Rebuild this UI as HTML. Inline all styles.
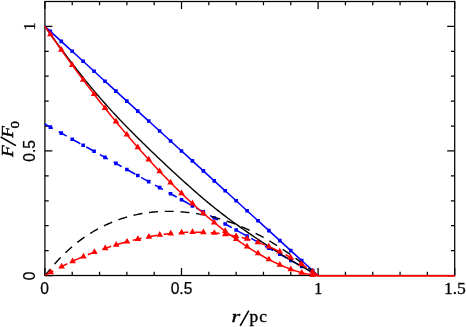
<!DOCTYPE html>
<html><head><meta charset="utf-8"><title>F/F0 vs r/pc</title>
<style>html,body{margin:0;padding:0;background:#fff;}svg{display:block;}</style></head>
<body>
<svg width="466" height="327" viewBox="0 0 466 327">
<rect width="466" height="327" fill="#fff"/>
<g fill="none" stroke="#000" stroke-width="1.25">
<rect x="44.9" y="1.5" width="409.8" height="274"/>
<path d="M44.9 275.5V268M44.9 1.5V9M72.22 275.5V271.7M72.22 1.5V5.3M99.54 275.5V271.7M99.54 1.5V5.3M126.86 275.5V271.7M126.86 1.5V5.3M154.18 275.5V271.7M154.18 1.5V5.3M181.5 275.5V268M181.5 1.5V9M208.82 275.5V271.7M208.82 1.5V5.3M236.14 275.5V271.7M236.14 1.5V5.3M263.46 275.5V271.7M263.46 1.5V5.3M290.78 275.5V271.7M290.78 1.5V5.3M318.1 275.5V268M318.1 1.5V9M345.42 275.5V271.7M345.42 1.5V5.3M372.74 275.5V271.7M372.74 1.5V5.3M400.06 275.5V271.7M400.06 1.5V5.3M427.38 275.5V271.7M427.38 1.5V5.3M454.7 275.5V268M454.7 1.5V9M44.9 275.5H52.4M454.7 275.5H447.2M44.9 250.59H48.7M454.7 250.59H450.9M44.9 225.68H48.7M454.7 225.68H450.9M44.9 200.77H48.7M454.7 200.77H450.9M44.9 175.86H48.7M454.7 175.86H450.9M44.9 150.95H52.4M454.7 150.95H447.2M44.9 126.04H48.7M454.7 126.04H450.9M44.9 101.13H48.7M454.7 101.13H450.9M44.9 76.22H48.7M454.7 76.22H450.9M44.9 51.31H48.7M454.7 51.31H450.9M44.9 26.4H52.4M454.7 26.4H447.2"/>
</g>
<path fill="none" stroke="#0000ff" stroke-width="1.55" d="M44.9 26.4 L46.27 27.65 L47.63 28.89 L49 30.14 L50.36 31.38 L51.73 32.63 L53.1 33.87 L54.46 35.12 L55.83 36.36 L57.19 37.61 L58.56 38.86 L59.93 40.1 L61.29 41.35 L62.66 42.59 L64.02 43.84 L65.39 45.08 L66.76 46.33 L68.12 47.57 L69.49 48.82 L70.85 50.06 L72.22 51.31 L73.59 52.56 L74.95 53.8 L76.32 55.05 L77.68 56.29 L79.05 57.54 L80.42 58.78 L81.78 60.03 L83.15 61.27 L84.51 62.52 L85.88 63.77 L87.25 65.01 L88.61 66.26 L89.98 67.5 L91.34 68.75 L92.71 69.99 L94.08 71.24 L95.44 72.48 L96.81 73.73 L98.17 74.97 L99.54 76.22 L100.91 77.47 L102.27 78.71 L103.64 79.96 L105 81.2 L106.37 82.45 L107.74 83.69 L109.1 84.94 L110.47 86.18 L111.83 87.43 L113.2 88.68 L114.57 89.92 L115.93 91.17 L117.3 92.41 L118.66 93.66 L120.03 94.9 L121.4 96.15 L122.76 97.39 L124.13 98.64 L125.49 99.88 L126.86 101.13 L128.23 102.38 L129.59 103.62 L130.96 104.87 L132.32 106.11 L133.69 107.36 L135.06 108.6 L136.42 109.85 L137.79 111.09 L139.15 112.34 L140.52 113.59 L141.89 114.83 L143.25 116.08 L144.62 117.32 L145.98 118.57 L147.35 119.81 L148.72 121.06 L150.08 122.3 L151.45 123.55 L152.81 124.79 L154.18 126.04 L155.55 127.29 L156.91 128.53 L158.28 129.78 L159.64 131.02 L161.01 132.27 L162.38 133.51 L163.74 134.76 L165.11 136 L166.47 137.25 L167.84 138.5 L169.21 139.74 L170.57 140.99 L171.94 142.23 L173.3 143.48 L174.67 144.72 L176.04 145.97 L177.4 147.21 L178.77 148.46 L180.13 149.7 L181.5 150.95 L182.87 152.2 L184.23 153.44 L185.6 154.69 L186.96 155.93 L188.33 157.18 L189.7 158.42 L191.06 159.67 L192.43 160.91 L193.79 162.16 L195.16 163.41 L196.53 164.65 L197.89 165.9 L199.26 167.14 L200.62 168.39 L201.99 169.63 L203.36 170.88 L204.72 172.12 L206.09 173.37 L207.45 174.61 L208.82 175.86 L210.19 177.11 L211.55 178.35 L212.92 179.6 L214.28 180.84 L215.65 182.09 L217.02 183.33 L218.38 184.58 L219.75 185.82 L221.11 187.07 L222.48 188.31 L223.85 189.56 L225.21 190.81 L226.58 192.05 L227.94 193.3 L229.31 194.54 L230.68 195.79 L232.04 197.03 L233.41 198.28 L234.77 199.52 L236.14 200.77 L237.51 202.02 L238.87 203.26 L240.24 204.51 L241.6 205.75 L242.97 207 L244.34 208.24 L245.7 209.49 L247.07 210.73 L248.43 211.98 L249.8 213.22 L251.17 214.47 L252.53 215.72 L253.9 216.96 L255.26 218.21 L256.63 219.45 L258 220.7 L259.36 221.94 L260.73 223.19 L262.09 224.43 L263.46 225.68 L264.83 226.93 L266.19 228.17 L267.56 229.42 L268.92 230.66 L270.29 231.91 L271.66 233.15 L273.02 234.4 L274.39 235.64 L275.75 236.89 L277.12 238.13 L278.49 239.38 L279.85 240.63 L281.22 241.87 L282.58 243.12 L283.95 244.36 L285.32 245.61 L286.68 246.85 L288.05 248.1 L289.41 249.34 L290.78 250.59 L292.15 251.84 L293.51 253.08 L294.88 254.33 L296.24 255.57 L297.61 256.82 L298.98 258.06 L300.34 259.31 L301.71 260.55 L303.07 261.8 L304.44 263.05 L305.81 264.29 L307.17 265.54 L308.54 266.78 L309.9 268.03 L311.27 269.27 L312.64 270.52 L314 271.76 L315.37 273.01 L316.73 274.25 L318.1 275.5"/>
<path fill="#0000ff" d="M48.56 29.58h3.6v3.6h-3.6zM59.49 39.55h3.6v3.6h-3.6zM70.42 49.51h3.6v3.6h-3.6zM81.35 59.47h3.6v3.6h-3.6zM92.28 69.44h3.6v3.6h-3.6zM103.2 79.4h3.6v3.6h-3.6zM114.13 89.37h3.6v3.6h-3.6zM125.06 99.33h3.6v3.6h-3.6zM135.99 109.29h3.6v3.6h-3.6zM146.92 119.26h3.6v3.6h-3.6zM157.84 129.22h3.6v3.6h-3.6zM168.77 139.19h3.6v3.6h-3.6zM179.7 149.15h3.6v3.6h-3.6zM190.63 159.11h3.6v3.6h-3.6zM201.56 169.08h3.6v3.6h-3.6zM212.48 179.04h3.6v3.6h-3.6zM223.41 189.01h3.6v3.6h-3.6zM234.34 198.97h3.6v3.6h-3.6zM245.27 208.93h3.6v3.6h-3.6zM256.2 218.9h3.6v3.6h-3.6zM267.12 228.86h3.6v3.6h-3.6zM278.05 238.83h3.6v3.6h-3.6zM288.98 248.79h3.6v3.6h-3.6zM299.91 258.75h3.6v3.6h-3.6zM310.84 268.72h3.6v3.6h-3.6z"/>
<path fill="none" stroke="#0000ff" stroke-width="1.55" stroke-dasharray="9.1 6.63" d="M44.9 124.05 L46.27 124.8 L47.63 125.56 L49 126.32 L50.36 127.08 L51.73 127.83 L53.1 128.59 L54.46 129.35 L55.83 130.11 L57.19 130.86 L58.56 131.62 L59.93 132.38 L61.29 133.13 L62.66 133.89 L64.02 134.65 L65.39 135.41 L66.76 136.16 L68.12 136.92 L69.49 137.68 L70.85 138.44 L72.22 139.19 L73.59 139.95 L74.95 140.71 L76.32 141.46 L77.68 142.22 L79.05 142.98 L80.42 143.74 L81.78 144.49 L83.15 145.25 L84.51 146.01 L85.88 146.77 L87.25 147.52 L88.61 148.28 L89.98 149.04 L91.34 149.79 L92.71 150.55 L94.08 151.31 L95.44 152.07 L96.81 152.82 L98.17 153.58 L99.54 154.34 L100.91 155.1 L102.27 155.85 L103.64 156.61 L105 157.37 L106.37 158.12 L107.74 158.88 L109.1 159.64 L110.47 160.4 L111.83 161.15 L113.2 161.91 L114.57 162.67 L115.93 163.42 L117.3 164.18 L118.66 164.94 L120.03 165.7 L121.4 166.45 L122.76 167.21 L124.13 167.97 L125.49 168.73 L126.86 169.48 L128.23 170.24 L129.59 171 L130.96 171.75 L132.32 172.51 L133.69 173.27 L135.06 174.03 L136.42 174.78 L137.79 175.54 L139.15 176.3 L140.52 177.06 L141.89 177.81 L143.25 178.57 L144.62 179.33 L145.98 180.08 L147.35 180.84 L148.72 181.6 L150.08 182.36 L151.45 183.11 L152.81 183.87 L154.18 184.63 L155.55 185.39 L156.91 186.14 L158.28 186.9 L159.64 187.66 L161.01 188.41 L162.38 189.17 L163.74 189.93 L165.11 190.69 L166.47 191.44 L167.84 192.2 L169.21 192.96 L170.57 193.72 L171.94 194.47 L173.3 195.23 L174.67 195.99 L176.04 196.74 L177.4 197.5 L178.77 198.26 L180.13 199.02 L181.5 199.77 L182.87 200.53 L184.23 201.29 L185.6 202.05 L186.96 202.8 L188.33 203.56 L189.7 204.32 L191.06 205.07 L192.43 205.83 L193.79 206.59 L195.16 207.35 L196.53 208.1 L197.89 208.86 L199.26 209.62 L200.62 210.38 L201.99 211.13 L203.36 211.89 L204.72 212.65 L206.09 213.4 L207.45 214.16 L208.82 214.92 L210.19 215.68 L211.55 216.43 L212.92 217.19 L214.28 217.95 L215.65 218.71 L217.02 219.46 L218.38 220.22 L219.75 220.98 L221.11 221.73 L222.48 222.49 L223.85 223.25 L225.21 224.01 L226.58 224.76 L227.94 225.52 L229.31 226.28 L230.68 227.04 L232.04 227.79 L233.41 228.55 L234.77 229.31 L236.14 230.06 L237.51 230.82 L238.87 231.58 L240.24 232.34 L241.6 233.09 L242.97 233.85 L244.34 234.61 L245.7 235.37 L247.07 236.12 L248.43 236.88 L249.8 237.64 L251.17 238.39 L252.53 239.15 L253.9 239.91 L255.26 240.67 L256.63 241.42 L258 242.18 L259.36 242.94 L260.73 243.69 L262.09 244.45 L263.46 245.21 L264.83 245.97 L266.19 246.72 L267.56 247.48 L268.92 248.24 L270.29 249 L271.66 249.75 L273.02 250.51 L274.39 251.27 L275.75 252.02 L277.12 252.78 L278.49 253.54 L279.85 254.3 L281.22 255.05 L282.58 255.81 L283.95 256.57 L285.32 257.33 L286.68 258.08 L288.05 258.84 L289.41 259.6 L290.78 260.35 L292.15 261.11 L293.51 261.87 L294.88 262.63 L296.24 263.38 L297.61 264.14 L298.98 264.9 L300.34 265.66 L301.71 266.41 L303.07 267.17 L304.44 267.93 L305.81 268.68 L307.17 269.44 L308.54 270.2 L309.9 270.96 L311.27 271.71 L312.64 272.47 L314 273.23 L315.37 273.99 L316.73 274.74 L318.1 275.5"/>
<path fill="#0000ff" d="M48.56 125.28h3.6v3.6h-3.6zM59.49 131.33h3.6v3.6h-3.6zM70.42 137.39h3.6v3.6h-3.6zM81.35 143.45h3.6v3.6h-3.6zM92.28 149.51h3.6v3.6h-3.6zM103.2 155.57h3.6v3.6h-3.6zM114.13 161.62h3.6v3.6h-3.6zM125.06 167.68h3.6v3.6h-3.6zM135.99 173.74h3.6v3.6h-3.6zM146.92 179.8h3.6v3.6h-3.6zM157.84 185.86h3.6v3.6h-3.6zM168.77 191.92h3.6v3.6h-3.6zM179.7 197.97h3.6v3.6h-3.6zM190.63 204.03h3.6v3.6h-3.6zM201.56 210.09h3.6v3.6h-3.6zM212.48 216.15h3.6v3.6h-3.6zM223.41 222.21h3.6v3.6h-3.6zM234.34 228.26h3.6v3.6h-3.6zM245.27 234.32h3.6v3.6h-3.6zM256.2 240.38h3.6v3.6h-3.6zM267.12 246.44h3.6v3.6h-3.6zM278.05 252.5h3.6v3.6h-3.6zM288.98 258.55h3.6v3.6h-3.6zM299.91 264.61h3.6v3.6h-3.6zM310.84 270.67h3.6v3.6h-3.6z"/>
<path fill="none" stroke="#000" stroke-width="1.4" d="M45.3 26.73 L46.66 28.67 L48.03 30.61 L49.39 32.53 L50.75 34.45 L52.11 36.36 L53.48 38.26 L54.84 40.16 L56.2 42.04 L57.57 43.92 L58.93 45.79 L60.29 47.65 L61.66 49.51 L63.02 51.35 L64.38 53.19 L65.75 55.01 L67.11 56.83 L68.47 58.64 L69.83 60.44 L71.2 62.23 L72.56 64.02 L73.92 65.79 L75.29 67.55 L76.65 69.31 L78.01 71.05 L79.38 72.79 L80.74 74.51 L82.1 76.23 L83.46 77.94 L84.83 79.63 L86.19 81.32 L87.55 83 L88.92 84.66 L90.28 86.32 L91.64 87.96 L93 89.6 L94.37 91.22 L95.73 92.84 L97.09 94.44 L98.46 96.03 L99.82 97.62 L101.18 99.19 L102.55 100.75 L103.91 102.29 L105.27 103.83 L106.64 105.36 L108 106.88 L109.36 108.38 L110.72 109.88 L112.09 111.37 L113.45 112.85 L114.81 114.32 L116.18 115.78 L117.54 117.23 L118.9 118.67 L120.27 120.11 L121.63 121.54 L122.99 122.96 L124.35 124.37 L125.72 125.78 L127.08 127.17 L128.44 128.57 L129.81 129.95 L131.17 131.33 L132.53 132.71 L133.9 134.08 L135.26 135.44 L136.62 136.8 L137.98 138.15 L139.35 139.5 L140.71 140.84 L142.07 142.18 L143.44 143.52 L144.8 144.85 L146.16 146.18 L147.53 147.5 L148.89 148.82 L150.25 150.14 L151.61 151.45 L152.98 152.76 L154.34 154.06 L155.7 155.36 L157.07 156.66 L158.43 157.95 L159.79 159.24 L161.16 160.53 L162.52 161.81 L163.88 163.09 L165.24 164.37 L166.61 165.64 L167.97 166.91 L169.33 168.17 L170.7 169.44 L172.06 170.7 L173.42 171.95 L174.79 173.21 L176.15 174.46 L177.51 175.71 L178.87 176.96 L180.24 178.2 L181.6 179.44 L182.96 180.67 L184.33 181.91 L185.69 183.14 L187.05 184.36 L188.42 185.58 L189.78 186.8 L191.14 188.01 L192.5 189.22 L193.87 190.42 L195.23 191.62 L196.59 192.81 L197.96 194 L199.32 195.18 L200.68 196.35 L202.05 197.51 L203.41 198.67 L204.77 199.83 L206.13 200.97 L207.5 202.11 L208.86 203.24 L210.22 204.36 L211.59 205.47 L212.95 206.58 L214.31 207.68 L215.68 208.76 L217.04 209.84 L218.4 210.92 L219.76 211.98 L221.13 213.04 L222.49 214.08 L223.85 215.13 L225.22 216.16 L226.58 217.19 L227.94 218.21 L229.31 219.22 L230.67 220.23 L232.03 221.23 L233.39 222.22 L234.76 223.21 L236.12 224.19 L237.48 225.17 L238.85 226.14 L240.21 227.11 L241.57 228.07 L242.94 229.03 L244.3 229.98 L245.66 230.93 L247.02 231.87 L248.39 232.81 L249.75 233.75 L251.11 234.68 L252.48 235.61 L253.84 236.53 L255.2 237.46 L256.56 238.37 L257.93 239.29 L259.29 240.2 L260.65 241.1 L262.02 242.01 L263.38 242.9 L264.74 243.8 L266.11 244.69 L267.47 245.58 L268.83 246.46 L270.2 247.34 L271.56 248.21 L272.92 249.08 L274.28 249.95 L275.65 250.81 L277.01 251.67 L278.37 252.52 L279.74 253.37 L281.1 254.22 L282.46 255.06 L283.83 255.89 L285.19 256.73 L286.55 257.55 L287.91 258.38 L289.28 259.2 L290.64 260.01 L292 260.82 L293.37 261.63 L294.73 262.43 L296.09 263.23 L297.46 264.02 L298.82 264.8 L300.18 265.59 L301.54 266.37 L302.91 267.14 L304.27 267.91 L305.63 268.67 L307 269.43 L308.36 270.18 L309.72 270.93 L311.09 271.68 L312.45 272.42 L313.81 273.15 L315.17 273.88 L316.54 274.6 L317.9 275.32"/>
<path fill="none" stroke="#000" stroke-width="1.4" stroke-dasharray="9 6.74" stroke-dashoffset="1.25" d="M45.3 275.3 L46.66 273.54 L48.03 271.82 L49.39 270.14 L50.75 268.49 L52.11 266.87 L53.48 265.28 L54.84 263.73 L56.2 262.21 L57.57 260.72 L58.93 259.27 L60.29 257.84 L61.66 256.44 L63.02 255.08 L64.38 253.74 L65.75 252.43 L67.11 251.15 L68.47 249.9 L69.83 248.68 L71.2 247.48 L72.56 246.31 L73.92 245.17 L75.29 244.06 L76.65 242.97 L78.01 241.9 L79.38 240.86 L80.74 239.84 L82.1 238.85 L83.46 237.88 L84.83 236.94 L86.19 236.02 L87.55 235.12 L88.92 234.24 L90.28 233.38 L91.64 232.54 L93 231.73 L94.37 230.93 L95.73 230.16 L97.09 229.4 L98.46 228.66 L99.82 227.94 L101.18 227.24 L102.55 226.56 L103.91 225.89 L105.27 225.24 L106.64 224.61 L108 223.99 L109.36 223.39 L110.72 222.8 L112.09 222.24 L113.45 221.68 L114.81 221.15 L116.18 220.62 L117.54 220.12 L118.9 219.63 L120.27 219.15 L121.63 218.69 L122.99 218.25 L124.35 217.82 L125.72 217.41 L127.08 217.01 L128.44 216.62 L129.81 216.25 L131.17 215.89 L132.53 215.55 L133.9 215.23 L135.26 214.91 L136.62 214.61 L137.98 214.33 L139.35 214.06 L140.71 213.8 L142.07 213.55 L143.44 213.32 L144.8 213.1 L146.16 212.9 L147.53 212.71 L148.89 212.53 L150.25 212.36 L151.61 212.21 L152.98 212.07 L154.34 211.94 L155.7 211.83 L157.07 211.72 L158.43 211.63 L159.79 211.55 L161.16 211.49 L162.52 211.43 L163.88 211.39 L165.24 211.36 L166.61 211.34 L167.97 211.33 L169.33 211.33 L170.7 211.35 L172.06 211.37 L173.42 211.41 L174.79 211.45 L176.15 211.51 L177.51 211.58 L178.87 211.66 L180.24 211.75 L181.6 211.85 L182.96 211.96 L184.33 212.08 L185.69 212.21 L187.05 212.35 L188.42 212.5 L189.78 212.67 L191.14 212.84 L192.5 213.03 L193.87 213.22 L195.23 213.43 L196.59 213.64 L197.96 213.87 L199.32 214.11 L200.68 214.36 L202.05 214.61 L203.41 214.88 L204.77 215.16 L206.13 215.45 L207.5 215.75 L208.86 216.06 L210.22 216.38 L211.59 216.71 L212.95 217.05 L214.31 217.4 L215.68 217.76 L217.04 218.14 L218.4 218.52 L219.76 218.91 L221.13 219.32 L222.49 219.73 L223.85 220.16 L225.22 220.59 L226.58 221.04 L227.94 221.5 L229.31 221.97 L230.67 222.45 L232.03 222.94 L233.39 223.45 L234.76 223.96 L236.12 224.49 L237.48 225.03 L238.85 225.58 L240.21 226.14 L241.57 226.71 L242.94 227.3 L244.3 227.89 L245.66 228.5 L247.02 229.12 L248.39 229.75 L249.75 230.4 L251.11 231.05 L252.48 231.72 L253.84 232.4 L255.2 233.09 L256.56 233.79 L257.93 234.51 L259.29 235.23 L260.65 235.97 L262.02 236.72 L263.38 237.48 L264.74 238.24 L266.11 239.02 L267.47 239.81 L268.83 240.61 L270.2 241.43 L271.56 242.25 L272.92 243.08 L274.28 243.92 L275.65 244.77 L277.01 245.63 L278.37 246.5 L279.74 247.38 L281.1 248.27 L282.46 249.16 L283.83 250.07 L285.19 250.98 L286.55 251.91 L287.91 252.84 L289.28 253.78 L290.64 254.73 L292 255.69 L293.37 256.66 L294.73 257.63 L296.09 258.61 L297.46 259.6 L298.82 260.6 L300.18 261.61 L301.54 262.62 L302.91 263.64 L304.27 264.66 L305.63 265.7 L307 266.74 L308.36 267.79 L309.72 268.84 L311.09 269.9 L312.45 270.97 L313.81 272.04 L315.17 273.12 L316.54 274.21 L317.9 275.3"/>
<path fill="none" stroke="#ff0000" stroke-width="1.5" d="M44.9 26.4 L46.27 28.39 L47.63 30.37 L49 32.35 L50.36 34.32 L51.73 36.29 L53.1 38.25 L54.46 40.2 L55.83 42.15 L57.19 44.09 L58.56 46.03 L59.93 47.96 L61.29 49.88 L62.66 51.8 L64.02 53.71 L65.39 55.61 L66.76 57.51 L68.12 59.4 L69.49 61.29 L70.85 63.17 L72.22 65.04 L73.59 66.91 L74.95 68.77 L76.32 70.63 L77.68 72.48 L79.05 74.32 L80.42 76.16 L81.78 77.99 L83.15 79.81 L84.51 81.63 L85.88 83.44 L87.25 85.24 L88.61 87.04 L89.98 88.83 L91.34 90.62 L92.71 92.4 L94.08 94.17 L95.44 95.93 L96.81 97.69 L98.17 99.45 L99.54 101.19 L100.91 102.93 L102.27 104.66 L103.64 106.39 L105 108.11 L106.37 109.83 L107.74 111.53 L109.1 113.23 L110.47 114.93 L111.83 116.61 L113.2 118.29 L114.57 119.97 L115.93 121.63 L117.3 123.29 L118.66 124.95 L120.03 126.59 L121.4 128.23 L122.76 129.87 L124.13 131.49 L125.49 133.11 L126.86 134.72 L128.23 136.33 L129.59 137.93 L130.96 139.52 L132.32 141.1 L133.69 142.68 L135.06 144.25 L136.42 145.82 L137.79 147.37 L139.15 148.92 L140.52 150.46 L141.89 152 L143.25 153.53 L144.62 155.05 L145.98 156.56 L147.35 158.07 L148.72 159.57 L150.08 161.06 L151.45 162.55 L152.81 164.02 L154.18 165.49 L155.55 166.96 L156.91 168.41 L158.28 169.86 L159.64 171.3 L161.01 172.74 L162.38 174.16 L163.74 175.58 L165.11 176.99 L166.47 178.39 L167.84 179.79 L169.21 181.18 L170.57 182.56 L171.94 183.93 L173.3 185.3 L174.67 186.66 L176.04 188.01 L177.4 189.35 L178.77 190.68 L180.13 192.01 L181.5 193.33 L182.87 194.64 L184.23 195.94 L185.6 197.24 L186.96 198.52 L188.33 199.8 L189.7 201.07 L191.06 202.34 L192.43 203.59 L193.79 204.84 L195.16 206.08 L196.53 207.31 L197.89 208.53 L199.26 209.74 L200.62 210.95 L201.99 212.14 L203.36 213.33 L204.72 214.51 L206.09 215.68 L207.45 216.85 L208.82 218 L210.19 219.15 L211.55 220.28 L212.92 221.41 L214.28 222.53 L215.65 223.64 L217.02 224.74 L218.38 225.84 L219.75 226.92 L221.11 228 L222.48 229.06 L223.85 230.12 L225.21 231.17 L226.58 232.2 L227.94 233.23 L229.31 234.25 L230.68 235.26 L232.04 236.27 L233.41 237.26 L234.77 238.24 L236.14 239.21 L237.51 240.17 L238.87 241.13 L240.24 242.07 L241.6 243 L242.97 243.93 L244.34 244.84 L245.7 245.74 L247.07 246.64 L248.43 247.52 L249.8 248.39 L251.17 249.26 L252.53 250.11 L253.9 250.95 L255.26 251.78 L256.63 252.6 L258 253.41 L259.36 254.21 L260.73 254.99 L262.09 255.77 L263.46 256.53 L264.83 257.29 L266.19 258.03 L267.56 258.76 L268.92 259.47 L270.29 260.18 L271.66 260.88 L273.02 261.56 L274.39 262.23 L275.75 262.88 L277.12 263.53 L278.49 264.16 L279.85 264.78 L281.22 265.39 L282.58 265.98 L283.95 266.56 L285.32 267.12 L286.68 267.67 L288.05 268.21 L289.41 268.73 L290.78 269.24 L292.15 269.74 L293.51 270.21 L294.88 270.68 L296.24 271.12 L297.61 271.55 L298.98 271.96 L300.34 272.36 L301.71 272.74 L303.07 273.1 L304.44 273.44 L305.81 273.76 L307.17 274.06 L308.54 274.33 L309.9 274.59 L311.27 274.82 L312.64 275.02 L314 275.2 L315.37 275.34 L316.73 275.45 L318.1 275.5"/>
<path d="M317.1 275.8H455" stroke="#ff0000" stroke-width="1.8" fill="none"/>
<path fill="#ff0000" d="M50.36 30.52L53.65 36.22L47.07 36.22zM61.29 46.08L64.58 51.78L58 51.78zM72.22 61.24L75.51 66.94L68.93 66.94zM83.15 76.01L86.44 81.71L79.86 81.71zM94.08 90.37L97.37 96.07L90.79 96.07zM105 104.31L108.29 110.01L101.71 110.01zM115.93 117.83L119.22 123.53L112.64 123.53zM126.86 130.92L130.15 136.62L123.57 136.62zM137.79 143.57L141.08 149.27L134.5 149.27zM148.72 155.77L152.01 161.47L145.43 161.47zM159.64 167.5L162.93 173.2L156.35 173.2zM170.57 178.76L173.86 184.46L167.28 184.46zM181.5 189.53L184.79 195.23L178.21 195.23zM192.43 199.79L195.72 205.49L189.14 205.49zM203.36 209.53L206.65 215.23L200.07 215.23zM214.28 218.73L217.57 224.43L210.99 224.43zM225.21 227.37L228.5 233.07L221.92 233.07zM236.14 235.41L239.43 241.11L232.85 241.11zM247.07 242.84L250.36 248.54L243.78 248.54zM258 249.61L261.29 255.31L254.71 255.31zM268.92 255.67L272.21 261.37L265.63 261.37zM279.85 260.98L283.14 266.68L276.56 266.68zM290.78 265.44L294.07 271.14L287.49 271.14zM301.71 268.94L305 274.64L298.42 274.64zM312.64 271.22L315.93 276.92L309.35 276.92z"/>
<path fill="none" stroke="#ff0000" stroke-width="1.5" stroke-dasharray="9.1 6.63" d="M45.3 275.13 L46.66 274.54 L48.03 273.8 L49.39 273.05 L50.75 272.31 L52.11 271.57 L53.48 270.83 L54.84 270.1 L56.2 269.38 L57.57 268.66 L58.93 267.96 L60.29 267.26 L61.66 266.56 L63.02 265.88 L64.38 265.2 L65.75 264.53 L67.11 263.87 L68.47 263.21 L69.83 262.56 L71.2 261.92 L72.56 261.29 L73.92 260.67 L75.29 260.05 L76.65 259.44 L78.01 258.84 L79.38 258.24 L80.74 257.65 L82.1 257.07 L83.46 256.5 L84.83 255.93 L86.19 255.37 L87.55 254.82 L88.92 254.28 L90.28 253.74 L91.64 253.21 L93 252.68 L94.37 252.17 L95.73 251.66 L97.09 251.15 L98.46 250.66 L99.82 250.17 L101.18 249.68 L102.55 249.21 L103.91 248.74 L105.27 248.27 L106.64 247.82 L108 247.36 L109.36 246.92 L110.72 246.48 L112.09 246.05 L113.45 245.62 L114.81 245.2 L116.18 244.79 L117.54 244.38 L118.9 243.98 L120.27 243.58 L121.63 243.19 L122.99 242.81 L124.35 242.43 L125.72 242.06 L127.08 241.7 L128.44 241.34 L129.81 240.99 L131.17 240.64 L132.53 240.3 L133.9 239.97 L135.26 239.64 L136.62 239.32 L137.98 239 L139.35 238.7 L140.71 238.4 L142.07 238.1 L143.44 237.81 L144.8 237.53 L146.16 237.26 L147.53 236.99 L148.89 236.73 L150.25 236.48 L151.61 236.23 L152.98 235.99 L154.34 235.76 L155.7 235.53 L157.07 235.31 L158.43 235.1 L159.79 234.89 L161.16 234.69 L162.52 234.5 L163.88 234.32 L165.24 234.14 L166.61 233.97 L167.97 233.81 L169.33 233.65 L170.7 233.51 L172.06 233.37 L173.42 233.23 L174.79 233.11 L176.15 232.99 L177.51 232.88 L178.87 232.77 L180.24 232.68 L181.6 232.59 L182.96 232.51 L184.33 232.43 L185.69 232.37 L187.05 232.31 L188.42 232.26 L189.78 232.22 L191.14 232.19 L192.5 232.16 L193.87 232.14 L195.23 232.13 L196.59 232.13 L197.96 232.14 L199.32 232.16 L200.68 232.18 L202.05 232.22 L203.41 232.26 L204.77 232.31 L206.13 232.38 L207.5 232.45 L208.86 232.53 L210.22 232.62 L211.59 232.72 L212.95 232.82 L214.31 232.94 L215.68 233.07 L217.04 233.21 L218.4 233.36 L219.76 233.51 L221.13 233.68 L222.49 233.86 L223.85 234.05 L225.22 234.25 L226.58 234.46 L227.94 234.67 L229.31 234.91 L230.67 235.15 L232.03 235.4 L233.39 235.66 L234.76 235.93 L236.12 236.22 L237.48 236.52 L238.85 236.82 L240.21 237.14 L241.57 237.47 L242.94 237.81 L244.3 238.17 L245.66 238.53 L247.02 238.91 L248.39 239.3 L249.75 239.7 L251.11 240.11 L252.48 240.54 L253.84 240.97 L255.2 241.42 L256.56 241.89 L257.93 242.36 L259.29 242.85 L260.65 243.35 L262.02 243.86 L263.38 244.39 L264.74 244.92 L266.11 245.47 L267.47 246.04 L268.83 246.61 L270.2 247.2 L271.56 247.8 L272.92 248.41 L274.28 249.04 L275.65 249.67 L277.01 250.32 L278.37 250.99 L279.74 251.66 L281.1 252.35 L282.46 253.05 L283.83 253.76 L285.19 254.49 L286.55 255.22 L287.91 255.97 L289.28 256.73 L290.64 257.51 L292 258.3 L293.37 259.09 L294.73 259.9 L296.09 260.73 L297.46 261.56 L298.82 262.41 L300.18 263.27 L301.54 264.14 L302.91 265.02 L304.27 265.91 L305.63 266.82 L307 267.74 L308.36 268.67 L309.72 269.6 L311.09 270.55 L312.45 271.51 L313.81 272.48 L315.17 273.45 L316.54 274.42 L317.9 275.24"/>
<path fill="#ff0000" d="M50.75 268.51L54.04 274.21L47.46 274.21zM61.66 262.76L64.95 268.46L58.37 268.46zM72.56 257.49L75.85 263.19L69.27 263.19zM83.46 252.7L86.75 258.4L80.17 258.4zM94.37 248.37L97.66 254.07L91.08 254.07zM105.27 244.47L108.56 250.17L101.98 250.17zM116.18 240.99L119.47 246.69L112.89 246.69zM127.08 237.9L130.37 243.6L123.79 243.6zM137.98 235.2L141.27 240.9L134.69 240.9zM148.89 232.93L152.18 238.63L145.6 238.63zM159.79 231.09L163.08 236.79L156.5 236.79zM170.7 229.71L173.99 235.41L167.41 235.41zM181.6 228.79L184.89 234.49L178.31 234.49zM192.5 228.36L195.79 234.06L189.21 234.06zM203.41 228.46L206.7 234.16L200.12 234.16zM214.31 229.14L217.6 234.84L211.02 234.84zM225.22 230.45L228.51 236.15L221.93 236.15zM236.12 232.42L239.41 238.12L232.83 238.12zM247.02 235.11L250.31 240.81L243.73 240.81zM257.93 238.56L261.22 244.26L254.64 244.26zM268.83 242.81L272.12 248.51L265.54 248.51zM279.74 247.86L283.03 253.56L276.45 253.56zM290.64 253.71L293.93 259.41L287.35 259.41zM301.54 260.34L304.83 266.04L298.25 266.04zM312.45 267.71L315.74 273.41L309.16 273.41z"/>
<g fill="#000" text-anchor="middle" opacity="0.999">
<text x="44.7" y="294" font-family="Liberation Sans, sans-serif" font-size="15.6" stroke="#000" stroke-width="0.25">0</text>
<text x="181.5" y="294" font-family="Liberation Sans, sans-serif" font-size="15.6" stroke="#000" stroke-width="0.25">0.5</text>
<text transform="translate(318.2 293.6) scale(1.0 1)" font-family="Liberation Serif, serif" font-size="16" stroke="#000" stroke-width="0.3">1</text>
<text transform="translate(454.9 293.9) scale(1.1 1)" font-family="Liberation Serif, serif" font-size="16" stroke="#000" stroke-width="0.3">1.5</text>
<text transform="translate(35.3 275.8) rotate(-90)" font-family="Liberation Sans, sans-serif" font-size="15.6" stroke="#000" stroke-width="0.25">0</text>
<text transform="translate(35.3 150.95) rotate(-90)" font-family="Liberation Sans, sans-serif" font-size="15.6" stroke="#000" stroke-width="0.25">0.5</text>
<text transform="translate(35.2 26.6) rotate(-90) scale(1.0 1)" font-family="Liberation Serif, serif" font-size="16" stroke="#000" stroke-width="0.3">1</text>
</g>
<g fill="#000" opacity="0.999" font-family="Liberation Serif, serif" stroke="#000" stroke-width="0.35" stroke-linejoin="round">
<text transform="translate(231.5 322) scale(1.4 1)" font-size="16" font-style="italic">r</text>
<path d="M240.2 325.8L248.8 310.6" stroke-width="1.6" fill="none"/>
<text transform="translate(249.6 322) scale(1.08 1)" font-size="16">p</text>
<text transform="translate(259.2 322) scale(1.08 1)" font-size="16">c</text>
<g transform="translate(13 0) rotate(-90)">
<text transform="translate(-157.0 0) scale(1.2 1)" font-size="16" font-style="italic">F</text>
<path d="M-145.6 2.9L-136.9 -12.4" stroke-width="1.6" fill="none"/>
<text transform="translate(-137.8 0) scale(1.2 1)" font-size="16" font-style="italic">F</text>
<text transform="translate(-128.6 5.6) scale(1.15 1)" font-size="13">0</text>
</g>
</g>
</svg>
</body></html>
